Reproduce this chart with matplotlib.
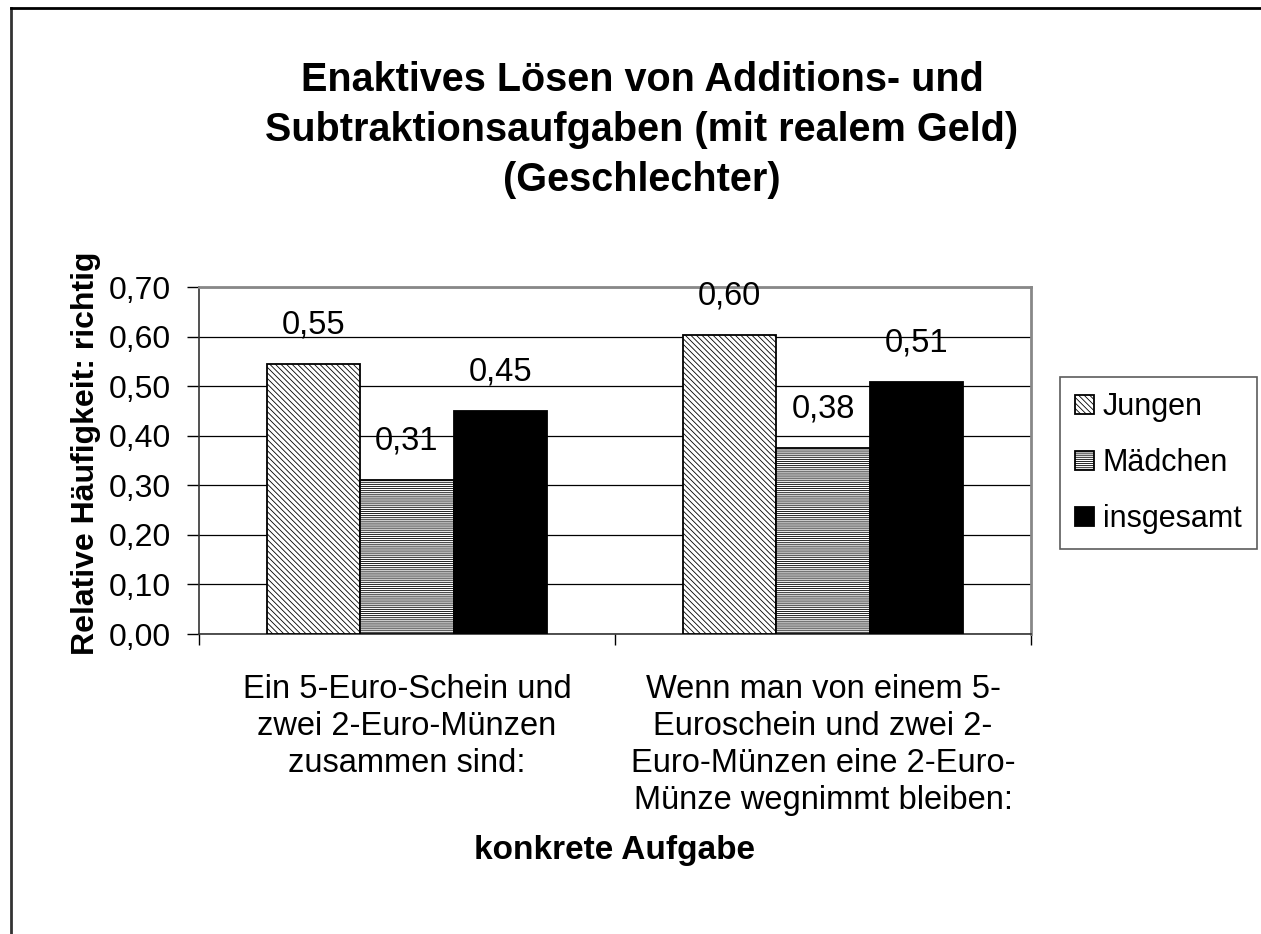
import matplotlib
matplotlib.use("Agg")
import matplotlib.pyplot as plt
import numpy as np

plt.rcParams['font.family'] = ['Liberation Sans', 'DejaVu Sans']
plt.rcParams['hatch.linewidth'] = 0.6

categories = ["Ein 5-Euro-Schein und\nzwei 2-Euro-Münzen\nzusammen sind:",
              "Wenn man von einem 5-\nEuroschein und zwei 2-\nEuro-Münzen eine 2-Euro-\nMünze wegnimmt bleiben:"]
series = ["Jungen", "Mädchen", "insgesamt"]
jungen = [0.545, 0.603]
maedchen = [0.31, 0.375]
insgesamt = [0.45, 0.508]
yticks = [0.0, 0.1, 0.2, 0.3, 0.4, 0.5, 0.6, 0.7]

W, H = 1261, 934
fig = plt.figure(figsize=(W/100, H/100), dpi=100)
ax = fig.add_axes([199/W, 1-634/H, (1031-199)/W, (634-287)/H])

x = np.arange(len(categories))
bw = 0.225
styles = [dict(facecolor='white', hatch='\\\\\\\\\\\\'),
          dict(facecolor='white', hatch='--------'),
          dict(facecolor='black', hatch=None)]
for i, (vals, st) in enumerate(zip([jungen, maedchen, insgesamt], styles)):
    bars = ax.bar(x + (i-1)*bw, vals, bw, edgecolor='black', linewidth=1.3,
                  label=series[i], zorder=3, **st)
    for b, v in zip(bars, vals):
        ax.annotate(f"{v:.2f}".replace('.', ','), (b.get_x()+b.get_width()/2, v),
                    xytext=(0, 28), textcoords='offset points', ha='center', va='center',
                    fontsize=23.5)

ax.set_xlim(-0.5, 1.5)
ax.set_ylim(0, 0.7)
ax.set_yticks(yticks)
ax.set_yticklabels([f"{t:.2f}".replace('.', ',') for t in yticks], fontsize=23)
ax.set_xticks([-0.5, 0.5, 1.5])
ax.set_xticklabels([])
ax.tick_params(axis='y', direction='out', length=8.5, width=1, pad=12)
ax.tick_params(axis='x', direction='out', length=8, width=1)
for i, c in enumerate(categories):
    ax.text(x[i], -0.08, c, ha='center', va='top', fontsize=23.5, linespacing=1.26,
            transform=ax.transData)
ax.yaxis.grid(True, color='black', linewidth=0.9, zorder=0)
ax.spines['top'].set_color('#888888')
ax.spines['right'].set_color('#888888')
ax.spines['top'].set_linewidth(2)
ax.spines['right'].set_linewidth(2)
ax.spines['left'].set_linewidth(1.2)
ax.spines['bottom'].set_linewidth(1.2)
ax.spines['left'].set_color('#333333')
ax.spines['bottom'].set_color('#333333')

fig.text(86/W, 1-453/H, "Relative Häufigkeit: richtig", rotation=90, ha='center', va='center',
         fontsize=23, fontweight='bold')
fig.text(615/W, 1-851/H, "konkrete Aufgabe", ha='center', va='center', fontsize=24, fontweight='bold')

fig.text(642/W, 1-130/H, "Enaktives Lösen von Additions- und\nSubtraktionsaufgaben (mit realem Geld)\n(Geschlechter)",
         ha='center', va='center', fontsize=28.5, fontweight='bold', linespacing=1.4)

leg = fig.legend(loc='upper left', bbox_to_anchor=(1060/W, 1-377/H), fontsize=22,
                 frameon=True, fancybox=False, edgecolor='#333333', handlelength=0.6,
                 handleheight=0.6, handletextpad=0.3, borderpad=0.5, labelspacing=0.85,
                 borderaxespad=0)
leg.get_frame().set_linewidth(1.2)

# figure border (top and left visible)
fig.add_artist(plt.Line2D([11/W, 11/W], [0, 1-8/H], color='#333333', linewidth=2, transform=fig.transFigure))
fig.add_artist(plt.Line2D([11/W, 1], [1-8/H, 1-8/H], color='black', linewidth=2, transform=fig.transFigure))

fig.savefig("out.png", dpi=100)
